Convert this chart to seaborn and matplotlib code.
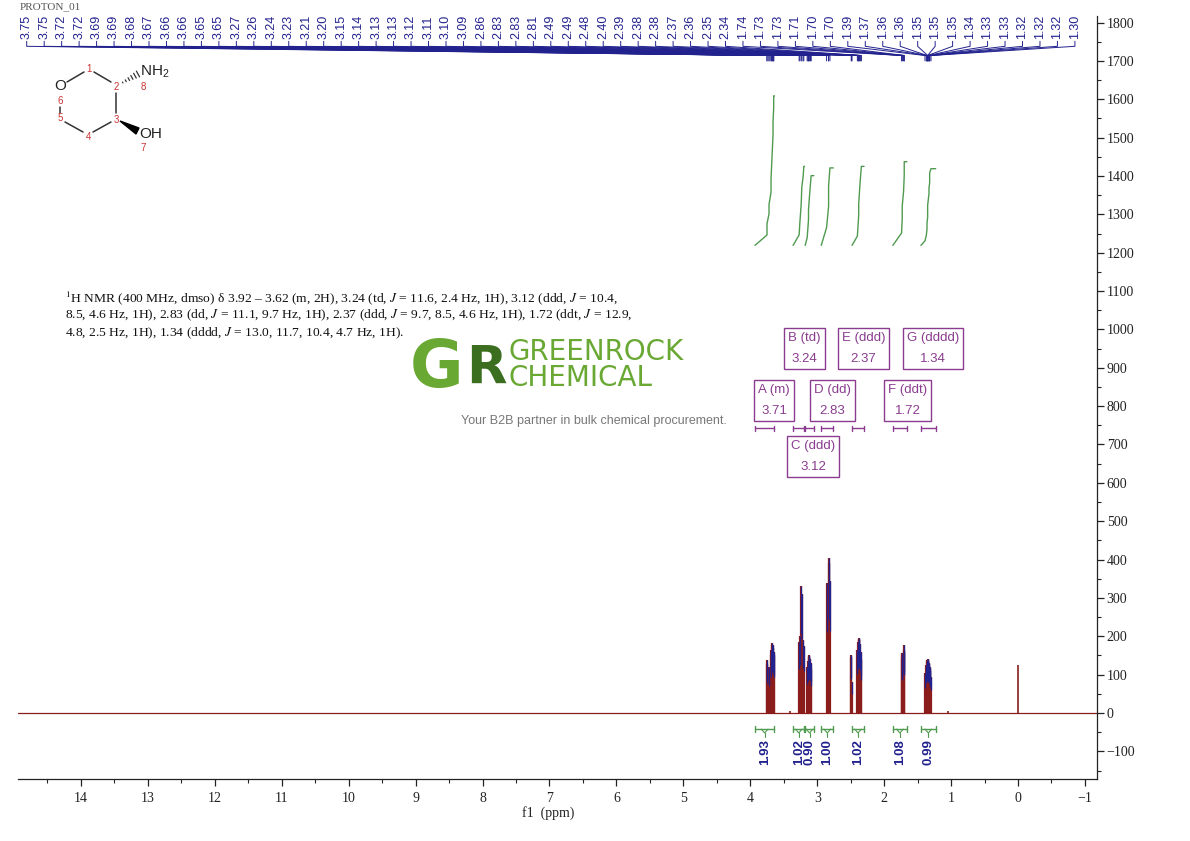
import numpy as np
import pandas as pd
import seaborn as sns
import matplotlib.pyplot as plt
from matplotlib.patches import Polygon

# picked peaks (ppm) and heights
peak_ppm = [3.75, 3.75, 3.72, 3.72, 3.69, 3.69, 3.68, 3.67, 3.66, 3.66, 3.65, 3.65,
            3.27, 3.26, 3.24, 3.23, 3.21, 3.20,
            3.15, 3.14, 3.13, 3.13, 3.12, 3.11, 3.10, 3.09,
            2.86, 2.83, 2.83, 2.81,
            2.49, 2.49, 2.48,
            2.40, 2.39, 2.38, 2.38, 2.37, 2.36, 2.35, 2.34,
            1.74, 1.73, 1.73, 1.71, 1.70, 1.70,
            1.39, 1.37, 1.36, 1.36, 1.35, 1.35, 1.35, 1.34, 1.33, 1.33, 1.32, 1.32, 1.32, 1.30]
peak_height = [128, 138, 120, 115, 150, 165, 177, 182, 178, 170, 160, 150,
               185, 200, 331, 310, 190, 175,
               120, 135, 150, 148, 145, 140, 130, 115,
               340, 403, 390, 345,
               150, 145, 80,
               165, 185, 195, 193, 190, 180, 160, 140,
               140, 156, 150, 165, 177, 160,
               105, 125, 135, 138, 140, 138, 135, 132, 128, 130, 120, 115, 110, 95]
# unpicked signals (TMS and small bumps)
extra_ppm = [0.00, 3.40, 1.05]
extra_height = [125, 4, 6]

# integration regions
int_start = [3.93, 3.36, 3.18, 2.94, 2.48, 1.87, 1.45]
int_end = [3.64, 3.19, 3.05, 2.76, 2.30, 1.66, 1.23]
int_value = [1.93, 1.02, 0.90, 1.00, 1.02, 1.08, 0.99]

# multiplet boxes
mult_name = ['A', 'B', 'C', 'D', 'E', 'F', 'G']
mult_type = ['m', 'td', 'ddd', 'dd', 'ddd', 'ddt', 'dddd']
mult_shift = [3.71, 3.24, 3.12, 2.83, 2.37, 1.72, 1.34]
box_x = [3.647, 3.192, 3.057, 2.773, 2.309, 1.644, 1.271]
box_y = [815, 950, 669, 815, 950, 815, 950]

x_ticks = list(range(14, -2, -1))
y_ticks = list(range(-100, 1900, 100))

nmr_text = [
    r"$^{1}$H NMR (400 MHz, dmso) δ 3.92 – 3.62 (m, 2H), 3.24 (td, $J$ = 11.6, 2.4 Hz, 1H), 3.12 (ddd, $J$ = 10.4,",
    r"8.5, 4.6 Hz, 1H), 2.83 (dd, $J$ = 11.1, 9.7 Hz, 1H), 2.37 (ddd, $J$ = 9.7, 8.5, 4.6 Hz, 1H), 1.72 (ddt, $J$ = 12.9,",
    r"4.8, 2.5 Hz, 1H), 1.34 (dddd, $J$ = 13.0, 11.7, 10.4, 4.7 Hz, 1H).",
]

RED = '#8b1c1c'
BLUE = '#22228e'
GREEN = '#4f9a4f'
PURPLE = '#8a3d8f'
SANS = ['Liberation Sans', 'DejaVu Sans']
SERIF = ['Liberation Serif', 'DejaVu Serif']

sns.set_theme(style="white")
plt.rcParams['font.family'] = SERIF
plt.rcParams['mathtext.fontset'] = 'stix'

fig = plt.figure(figsize=(11.9, 8.41), dpi=100)
ax = fig.add_axes([18 / 1190, 1 - 779 / 841, 1079 / 1190, 763 / 841])
ax.set_xlim(14.94, -1.18)
ax.set_ylim(-172, 1817)

# spectrum
ax.axhline(0, color=RED, lw=0.9, zorder=2)
ph = np.array(peak_height, dtype=float)
ax.vlines(peak_ppm, 0, ph, color=RED, lw=1.6, zorder=3)
ax.vlines(peak_ppm, ph * 0.62, ph, color=BLUE, lw=0.9, zorder=4)
ax.vlines(extra_ppm, 0, extra_height, color=RED, lw=1.2, zorder=3)

# integral curves (cumulative of the peak heights in each region)
pp = np.array(peak_ppm)
rows = []
for k, (s, e, v) in enumerate(zip(int_start, int_end, int_value)):
    sel = (pp < s) & (pp > e)
    order = np.argsort(-pp[sel])
    xs = np.concatenate([[s], pp[sel][order], [e]])
    cum = np.concatenate([[0], np.cumsum(ph[sel][order]) / ph[sel].sum(), [1]])
    for x, c in zip(xs, cum):
        rows.append({'region': k, 'ppm': x, 'curve': 1219 + v * 202 * c})
int_df = pd.DataFrame(rows)
sns.lineplot(data=int_df, x='ppm', y='curve', units='region', estimator=None,
             sort=False, color=GREEN, lw=1.0, ax=ax)

# integration brackets and values
for s, e, v in zip(int_start, int_end, int_value):
    c = (s + e) / 2
    ax.plot([s, e], [-42, -42], color=GREEN, lw=1)
    ax.plot([s, s], [-34, -50], color=GREEN, lw=1)
    ax.plot([e, e], [-34, -50], color=GREEN, lw=1)
    ax.plot([c - 0.05, c, c + 0.05], [-42, -52, -42], color=GREEN, lw=0.8)
    ax.plot([c, c], [-52, -62], color=GREEN, lw=0.8)
    ax.text(c, -68, f'{v:.2f}', rotation=90, ha='center', va='top', fontsize=9.5,
            fontweight='bold', color=BLUE, family=SANS)

# multiplet ranges and boxes
for s, e in zip(int_start, int_end):
    ax.plot([s, e], [742, 742], color=PURPLE, lw=1)
    ax.plot([s, s], [735, 749], color=PURPLE, lw=1)
    ax.plot([e, e], [735, 749], color=PURPLE, lw=1)
for n, t, sh, bx, by in zip(mult_name, mult_type, mult_shift, box_x, box_y):
    ax.text(bx, by, f'{n} ({t})\n{sh:.2f}', ha='center', va='center', fontsize=9.5,
            color=PURPLE, family=SANS, linespacing=2.0,
            bbox=dict(boxstyle='square,pad=0.3', fc='white', ec=PURPLE, lw=1))

# peak labels along the top
lab_x = np.linspace(14.81, -0.85, len(peak_ppm))
for lx, p in zip(lab_x, peak_ppm):
    ax.text(lx, 1757, f'{p:.2f}', rotation=90, ha='center', va='bottom', fontsize=9,
            color=BLUE, family=SANS, clip_on=False)
    ax.plot([lx, lx, p, p], [1751, 1738, 1714, 1700], color=BLUE, lw=0.7, clip_on=False)

# axes styling
for side in ['left', 'top']:
    ax.spines[side].set_visible(False)
for side in ['bottom', 'right']:
    ax.spines[side].set_color('#222222')
    ax.spines[side].set_linewidth(0.9)
ax.yaxis.tick_right()
ax.set_xticks(x_ticks)
ax.set_xticks(np.arange(14.5, -1.5, -1), minor=True)
ax.set_yticks(y_ticks)
ax.set_yticks(np.arange(-150, 1800, 100), minor=True)
ax.tick_params(axis='x', which='major', direction='out', length=5, width=0.9,
               labelsize=10, colors='#222222', pad=4, bottom=True)
ax.tick_params(axis='x', which='minor', direction='out', length=3, width=0.8, bottom=True)
ax.tick_params(axis='y', which='major', direction='out', length=5, width=0.9,
               labelsize=10, colors='#222222', pad=2, right=True, left=False)
ax.tick_params(axis='y', which='minor', direction='out', length=3, width=0.8, right=True, left=False)
ax.set_ylabel('')
ax.set_xlabel('f1  (ppm)', fontsize=10, color='#222222')
ax.xaxis.set_label_coords((548 - 18) / 1079, -0.035)
ax.grid(False)

# overlay in pixel coordinates for annotations
ov = fig.add_axes([0, 0, 1, 1], zorder=5)
ov.set_xlim(0, 1190)
ov.set_ylim(841, 0)
ov.axis('off')

ov.text(20, 7, 'PROTON_01', fontsize=8, color='#555555', va='center', ha='left')

# structure
bonds = [((67, 82), (84, 72)), ((94, 72), (111, 82)), ((116, 93), (116, 113)),
         ((111, 122), (93, 132)), ((83, 132), (65, 122)), ((60, 107), (60, 113))]
for (x0, y0), (x1, y1) in bonds:
    ov.plot([x0, x1], [y0, y1], color='#333333', lw=1.1)
for f in np.linspace(0.15, 1, 6):
    cx, cy = 120 + 18 * f, 84 - 10 * f
    d = 3.2 * f
    ov.plot([cx - 0.5 * d, cx + 0.5 * d], [cy - 0.9 * d, cy + 0.9 * d], color='#333333', lw=0.9)
ov.add_patch(Polygon([(120, 121), (139, 128), (136, 134)], closed=True, color='black'))
ov.text(60, 86, 'O', fontsize=11, ha='center', va='center', family=SANS, color='#222222')
ov.text(140, 72, r'NH$_\mathregular{2}$', fontsize=11, ha='left', va='center', family=SANS, color='#222222')
ov.text(139, 134, 'OH', fontsize=11, ha='left', va='center', family=SANS, color='#222222')
atom_num = ['1', '2', '3', '4', '5', '6', '7', '8']
num_xy = [(89, 69), (116, 87), (116, 120), (88, 137), (60, 118), (60, 101), (143, 148), (143, 87)]
for s, (x, y) in zip(atom_num, num_xy):
    ov.text(x, y, s, fontsize=7, ha='center', va='center', color='#cc3333', family=SANS)

# description text
for i, line in enumerate(nmr_text):
    ov.text(65, 298 + 17.5 * i, line, fontsize=9.7, ha='left', va='center', color='#111111')

# watermark
ov.text(410, 369, 'G', fontsize=47, fontweight='bold', color='#6aa834', ha='left', va='center',
        family='DejaVu Sans')
ov.text(466, 369, 'R', fontsize=38, fontweight='bold', color='#3b6e1f', ha='left', va='center',
        family='DejaVu Sans')
ov.text(509, 365, 'GREENROCK\nCHEMICAL', fontsize=20, color='#6aa834', ha='left', va='center',
        family='DejaVu Sans', linespacing=0.95)
ov.text(594, 421, 'Your B2B partner in bulk chemical procurement.', fontsize=9, color='#777777',
        ha='center', va='center', family='Liberation Sans')

fig.savefig('out.png', dpi=100)
